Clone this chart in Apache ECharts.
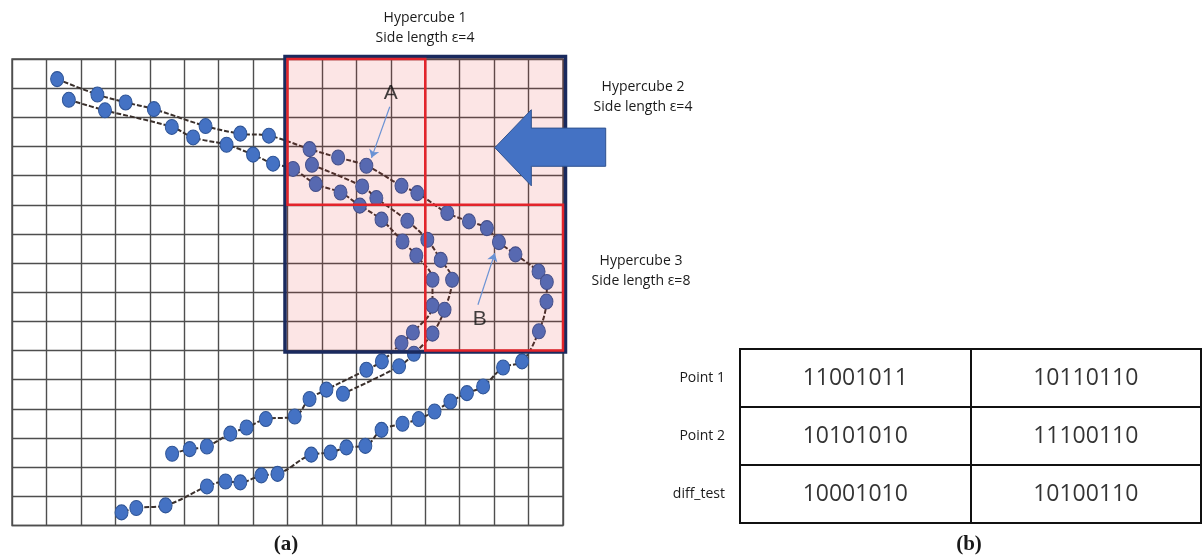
<!DOCTYPE html>
<html>
<head>
<meta charset="utf-8">
<script src="https://cdn.jsdelivr.net/npm/echarts@6/dist/echarts.min.js"></script>
<style>
html,body{margin:0;padding:0;background:#fff;}
#chart{width:1203px;height:558px;}
</style>
</head>
<body>
<div id="chart"></div>
<script>
// ---- data (grid units: x 0..16 left→right, y 0..16 bottom→top) ----
const curveOuter = [
  [1.31,15.31],[2.48,14.78],[3.30,14.51],[4.12,14.28],[5.62,13.70],[6.63,13.44],[7.46,13.37],
  [8.64,12.91],[9.47,12.62],[10.29,12.34],[11.31,11.65],[11.77,11.40],[12.64,10.72],[13.27,10.43],
  [13.79,10.20],[14.14,9.72],[14.62,9.30],[15.29,8.71],[15.53,8.35],[15.52,7.68],[15.30,6.66],
  [14.81,5.63],[14.26,5.42],[13.68,4.77],[13.21,4.54],[12.73,4.25],[12.27,3.91],[11.81,3.65],
  [11.34,3.49],[10.73,3.28],[10.26,2.73],[9.71,2.68],[9.25,2.50],[8.69,2.43],[7.71,1.77],
  [7.24,1.72],[6.63,1.48],[6.20,1.51],[5.66,1.34],[4.46,0.69],[3.61,0.60],[3.18,0.45]
];
const curveInner = [
  [1.65,14.60],[2.70,14.24],[4.64,13.67],[5.26,13.31],[6.23,13.06],[7.00,12.72],[7.58,12.41],
  [8.16,12.23],[8.82,11.71],[9.54,11.42],[10.10,10.97],[10.73,10.49],[11.34,9.74],[11.74,9.26],
  [12.21,8.43],[12.21,7.54],[11.64,6.62],[11.31,6.26],[10.74,5.63],[10.29,5.34],[9.13,4.66],
  [8.64,4.34],[8.21,3.74],[7.37,3.65],[6.81,3.36],[6.34,3.15],[5.66,2.71],[5.16,2.62],[4.65,2.46]
];
const curveMiddle = [
  [8.71,12.37],[10.17,11.63],[10.58,11.23],[11.48,10.45],[12.06,9.80],[12.45,9.11],[12.78,8.43],
  [12.56,7.40],[12.21,6.58],[11.67,5.89],[11.24,5.46],[9.61,4.52]
];
const hypercubeOuter = [8, 6, 16, 16];   // x0, y0, x1, y1
const hypercubeRed = [[8, 11, 12, 16], [12, 6, 16, 11]];
const bigArrow = [[14.02,12.96],[15.08,14.26],[15.08,13.63],[17.24,13.63],[17.24,12.32],[15.08,12.32],[15.08,11.65]];
const pointerA = {label: 'A', text: [11.0, 14.84], from: [10.97, 14.36], to: [10.44, 12.61]};
const pointerB = {label: 'B', text: [13.58, 7.06], from: [13.53, 7.57], to: [14.02, 9.34]};

const tableRows = ['Point 1', 'Point 2', 'diff_test'];
const tableCols = ['c1', 'c2'];
const tableCol1 = ['11001011', '10101010', '10001010'];
const tableCol2 = ['10110110', '11100110', '10100110'];

// ---- chart ----
const chart = echarts.init(document.getElementById('chart'), null, {renderer: 'canvas'});
const GRIDC = '#4e4e4e';
const FONT = '"Open Sans", "Liberation Sans", sans-serif';

const tableData = [];
tableRows.forEach((r, i) => {
  tableData.push({value: [0, i], name: tableCol1[i]});
  tableData.push({value: [1, i], name: tableCol2[i]});
});

function lineSeries(data) {
  return {
    type: 'line', xAxisIndex: 0, yAxisIndex: 0, data: data, smooth: 0.35,
    symbol: 'none', z: 2, silent: true,
    lineStyle: {color: '#3a302c', width: 2, type: [5, 2]}
  };
}
function scatterSeries(data) {
  return {
    type: 'scatter', xAxisIndex: 0, yAxisIndex: 0, data: data, z: 3,
    symbol: 'circle', symbolSize: [13, 15],
    itemStyle: {color: '#4472c4', borderColor: '#2f5597', borderWidth: 1, opacity: 1}
  };
}
function txt(x, y, s, font) {
  return {type: 'text', x: x, y: y, silent: true,
    style: {text: s, font: font || ('14px ' + FONT), fill: '#1a1a1a', textAlign: 'center', textVerticalAlign: 'middle'}};
}

const option = {
  animation: false,
  backgroundColor: '#ffffff',
  grid: [
    {left: 12, top: 59, width: 551, height: 466.5, show: true, borderColor: GRIDC, borderWidth: 1.4},
    {left: 740, top: 349, width: 461, height: 174, show: true, borderColor: '#111', borderWidth: 2}
  ],
  xAxis: [
    {gridIndex: 0, type: 'value', min: 0, max: 16, interval: 1,
      axisLabel: {show: false}, axisTick: {show: false}, axisLine: {show: false},
      splitLine: {show: true, lineStyle: {color: GRIDC, width: 1.4}}},
    {gridIndex: 1, type: 'category', data: tableCols,
      axisLabel: {show: false}, axisTick: {show: false}, axisLine: {show: false},
      splitLine: {show: true, interval: 0, lineStyle: {color: '#111', width: 2}}}
  ],
  yAxis: [
    {gridIndex: 0, type: 'value', min: 0, max: 16, interval: 1,
      axisLabel: {show: false}, axisTick: {show: false}, axisLine: {show: false},
      splitLine: {show: true, lineStyle: {color: GRIDC, width: 1.4}}},
    {gridIndex: 1, type: 'category', data: tableRows, inverse: true,
      axisLabel: {show: true, margin: 15, fontSize: 14, color: '#1a1a1a', fontFamily: FONT, padding: [7, 0, 0, 0]},
      axisTick: {show: false}, axisLine: {show: false},
      splitLine: {show: true, interval: 0, lineStyle: {color: '#111', width: 2}}}
  ],
  graphic: [
    txt(425, 18, 'Hypercube 1'),
    txt(425, 38, 'Side length ε=4'),
    txt(643, 87, 'Hypercube 2'),
    txt(643, 107, 'Side length ε=4'),
    txt(641, 261, 'Hypercube 3'),
    txt(641, 281, 'Side length ε=8'),
    txt(286, 545, '(a)', 'bold 21px "Liberation Serif", serif'),
    txt(969, 545, '(b)', 'bold 21px "Liberation Serif", serif')
  ],
  series: [
    lineSeries(curveOuter),
    lineSeries(curveInner),
    lineSeries(curveMiddle),
    scatterSeries(curveOuter),
    scatterSeries(curveInner),
    scatterSeries(curveMiddle),
    // pink translucent fill of the hypercube region
    {
      type: 'custom', xAxisIndex: 0, yAxisIndex: 0, z: 4, clip: false, silent: true,
      data: [hypercubeOuter],
      renderItem: function (params, api) {
        const p0 = api.coord([api.value(0), api.value(3)]);
        const p1 = api.coord([api.value(2), api.value(1)]);
        return {type: 'rect', shape: {x: p0[0] - 2.5, y: p0[1] - 2.5, width: p1[0] - p0[0] + 5, height: p1[1] - p0[1] + 4},
          style: {fill: 'rgba(228,40,40,0.12)'}};
      }
    },
    // navy outer border
    {
      type: 'custom', xAxisIndex: 0, yAxisIndex: 0, z: 6, clip: false, silent: true,
      data: [hypercubeOuter],
      renderItem: function (params, api) {
        const p0 = api.coord([api.value(0), api.value(3)]);
        const p1 = api.coord([api.value(2), api.value(1)]);
        return {type: 'rect', shape: {x: p0[0] - 2.5, y: p0[1] - 2.5, width: p1[0] - p0[0] + 5, height: p1[1] - p0[1] + 4},
          style: {fill: 'none', stroke: '#1a2a5e', lineWidth: 3.5}};
      }
    },
    // red hypercube borders
    {
      type: 'custom', xAxisIndex: 0, yAxisIndex: 0, z: 7, clip: false, silent: true,
      data: hypercubeRed,
      renderItem: function (params, api) {
        const p0 = api.coord([api.value(0), api.value(3)]);
        const p1 = api.coord([api.value(2), api.value(1)]);
        return {type: 'rect', shape: {x: p0[0], y: p0[1], width: p1[0] - p0[0], height: p1[1] - p0[1]},
          style: {fill: 'none', stroke: '#e3242b', lineWidth: 2.5}};
      }
    },
    // big blue arrow
    {
      type: 'custom', xAxisIndex: 0, yAxisIndex: 0, z: 8, clip: false, silent: true,
      data: [0],
      renderItem: function (params, api) {
        const pts = bigArrow.map(p => api.coord(p));
        return {type: 'polygon', shape: {points: pts}, style: {fill: '#4472c4', stroke: '#2f528f', lineWidth: 1}};
      }
    },
    // small pointer arrows A & B
    {
      type: 'lines', coordinateSystem: 'cartesian2d', xAxisIndex: 0, yAxisIndex: 0, z: 8, silent: true,
      symbol: ['none', 'arrow'], symbolSize: 8,
      lineStyle: {color: '#6a92d4', width: 1.2, opacity: 1, curveness: 0},
      data: [{coords: [pointerA.from, pointerA.to]}, {coords: [pointerB.from, pointerB.to]}]
    },
    {
      type: 'scatter', xAxisIndex: 0, yAxisIndex: 0, z: 9, silent: true,
      symbolSize: 1, itemStyle: {color: 'transparent'},
      label: {show: true, position: 'inside', formatter: p => p.name, fontSize: 21, color: '#111', fontFamily: '"Liberation Sans", Arial, sans-serif'},
      data: [{name: pointerA.label, value: pointerA.text}, {name: pointerB.label, value: pointerB.text}]
    },
    // table cell texts
    {
      type: 'scatter', xAxisIndex: 1, yAxisIndex: 1, z: 5, silent: true,
      symbolSize: 1, itemStyle: {color: 'transparent'},
      label: {show: true, position: 'inside', formatter: p => p.name, fontSize: 23, color: '#000', fontFamily: FONT, padding: [3, 0, 0, 0]},
      data: tableData
    }
  ]
};
chart.setOption(option);
</script>
</body>
</html>
